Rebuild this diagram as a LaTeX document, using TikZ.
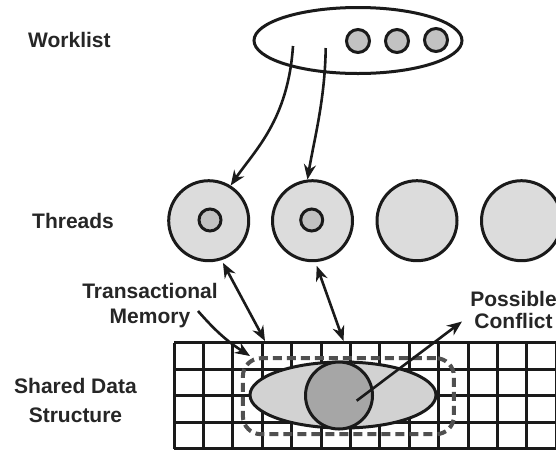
\documentclass[tikz,border=0pt]{standalone}
\usepackage{fontspec}
\setmainfont{Liberation Sans}
\usetikzlibrary{arrows.meta,shapes.geometric}
\definecolor{linec}{HTML}{1A1A1A}
\definecolor{txtc}{HTML}{262626}
\definecolor{threadc}{HTML}{DCDCDC}
\definecolor{itemc}{HTML}{C2C2C2}
\definecolor{ellc}{HTML}{D2D2D2}
\definecolor{darkc}{HTML}{A6A6A6}
\definecolor{dashc}{HTML}{505050}
\begin{document}
\begin{tikzpicture}[x=1pt,y=-1pt,
  ln/.style={draw=linec,line width=3pt},
  lbl/.style={text=txtc,font=\bfseries\fontsize{21}{25}\selectfont,align=center,inner sep=0pt},
  arr/.style={draw=linec,line width=2.6pt,-{Stealth[length=15pt,width=12pt]}},
  dbl/.style={draw=linec,line width=2.6pt,{Stealth[length=15pt,width=12pt]}-{Stealth[length=15pt,width=12pt]}},
  thread/.style={circle,ln,fill=threadc,minimum size=80pt,inner sep=0pt},
  item/.style={circle,ln,fill=itemc,minimum size=23pt,inner sep=0pt},
  tmbox/.style={draw=dashc,line width=4pt,dash pattern=on 9pt off 5pt,rounded corners=18pt,minimum width=211pt,minimum height=76pt,inner sep=0pt},
]
\useasboundingbox (0,0) rectangle (556,451);
\clip (0,0) rectangle (556,451);
\fill[white] (0,0) rectangle (556,451);

% grid of the shared data structure
\foreach \i in {0,...,13} \draw[ln] ({174+29.4*\i},342.7) -- ({174+29.4*\i},448.7);
\foreach \j in {0,...,4} \draw[ln] (174,{342.7+26.5*\j}) -- (560,{342.7+26.5*\j});

% transactional memory region
\node[tmbox] (tmr) at (348.4,396.2) {};
\node[ellipse,ln,fill=ellc,minimum width=186pt,minimum height=66pt,inner sep=0pt] (sds) at (343,395) {};
\node[circle,ln,fill=darkc,minimum size=67pt,inner sep=0pt] (conf) at (339,395.5) {};

% worklist
\node[ellipse,ln,minimum width=208pt,minimum height=66pt,inner sep=0pt] (wl) at (358,40.5) {};
\node[item] (i1) at (358,41) {};
\node[item] (i2) at (397,41) {};
\node[item] (i3) at (436,40) {};

% threads
\node[thread] (t1) at (208.7,220.7) {};
\node[thread] (t2) at (312.5,220.7) {};
\node[thread] (t3) at (417,220.7) {};
\node[thread] (t4) at (521.5,220.7) {};
\node[circle,ln,fill=itemc,minimum size=22pt,inner sep=0pt] (x1) at (210,220) {};
\node[circle,ln,fill=itemc,minimum size=22pt,inner sep=0pt] (x2) at (311.7,220) {};

% labels
\node[lbl,anchor=base west] (lw) at (28,47) {Worklist};
\node[lbl,anchor=base west] (lt) at (32,228) {Threads};
\node[lbl,font=\bfseries\fontsize{21}{29}\selectfont,anchor=base] (ls) at (75.5,422) {Shared Data\\Structure};
\node[lbl,font=\bfseries\fontsize{21}{25}\selectfont,anchor=base] (ltm) at (150,323) {Transactional\\Memory};
\node[lbl,font=\bfseries\fontsize{21}{21.5}\selectfont,anchor=base] (lpc) at (513.5,328.2) {Possible\\Conflict};

% connectors
\coordinate (w1) at (293,46);
\coordinate (w2) at (325.7,48);
\draw[arr] (w1) .. controls (288,120) and (255,150) .. (t1.58);
\draw[arr] (w2) .. controls (325,100) and (314,140) .. (t2.97);
\coordinate (g1) at (265,341);
\coordinate (g2) at (343.5,341);
\draw[dbl,shorten <=3pt] (t1.-72) -- (g1);
\draw[dbl,shorten <=4pt] (t2.-86) -- (g2);
\coordinate (tm0) at (198,311);
\coordinate (tm1) at (250,356);
\draw[arr] (tm0) to[bend right=8] (tm1);
\coordinate (cf0) at (356.7,400.7);
\coordinate (cf1) at (462,321.5);
\draw[arr] (cf0) -- (cf1);
\end{tikzpicture}
\end{document}
